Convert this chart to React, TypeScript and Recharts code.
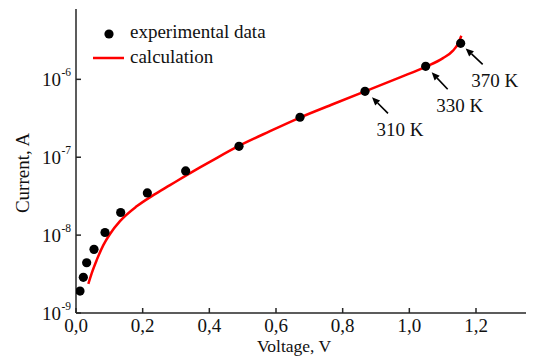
import React from "react";
import {
  ComposedChart,
  Scatter,
  Line,
  XAxis,
  YAxis,
  ReferenceLine,
  Legend,
} from "recharts";

// experimental points (voltage, V / current, A)
const expVoltage = [0.012, 0.022, 0.032, 0.054, 0.087, 0.134, 0.214, 0.329, 0.489, 0.672, 0.867, 1.049, 1.154];
const expCurrent = [1.91e-9, 2.87e-9, 4.42e-9, 6.56e-9, 1.08e-8, 1.95e-8, 3.48e-8, 6.67e-8, 1.38e-7, 3.26e-7, 7.02e-7, 1.47e-6, 2.9e-6];

// calculated curve
const calcVoltage = [
  0.037, 0.047, 0.062, 0.082, 0.102, 0.132, 0.182, 0.232, 0.282, 0.332, 0.372, 0.407, 0.487,
  0.582, 0.672, 0.772, 0.867, 0.972, 1.049, 1.101, 1.131, 1.146, 1.156,
];
const calcCurrent = [
  2.36e-9, 3.23e-9, 4.77e-9, 7.44e-9, 1.035e-8, 1.51e-8, 2.34e-8, 3.26e-8, 4.38e-8, 5.88e-8, 7.4e-8, 8.99e-8, 1.387e-7,
  2.16e-7, 3.23e-7, 4.82e-7, 7.02e-7, 1.06e-6, 1.45e-6, 1.87e-6, 2.34e-6, 2.85e-6, 3.63e-6,
];

// temperature annotations: arrow tail -> head
const arrowLabels = ["310 K", "330 K", "370 K"];
const arrowTailV = [0.936, 1.115, 1.22];
const arrowTailI = [3.66e-7, 7.45e-7, 1.56e-6];
const arrowHeadV = [0.888, 1.067, 1.169];
const arrowHeadI = [5.88e-7, 1.23e-6, 2.49e-6];

const xTicks = [0, 0.2, 0.4, 0.6, 0.8, 1.0, 1.2];
const yTicks = [1e-9, 1e-8, 1e-7, 1e-6];
const xDomain: [number, number] = [0, 1.35];
const yDomain: [number, number] = [1e-9, 8e-6];

const expData = expVoltage.map((v, i) => ({ v, i: expCurrent[i] }));
const calcData = calcVoltage.map((v, i) => ({ v, i: calcCurrent[i] }));

const INK = "#111";
const FRAME = "#262626";
const FONT = '"Liberation Serif", "DejaVu Serif", serif';

const XTick = ({ x, y, payload }: any) => (
  <g>
    <line x1={x} y1={y} x2={x} y2={y - 5} stroke={FRAME} strokeWidth={1.5} />
    <text x={x} y={y + 19} textAnchor="middle" fontSize={19} fill={INK} fontFamily={FONT}>
      {payload.value.toFixed(1).replace(".", ",")}
    </text>
  </g>
);

const YTick = ({ x, y, payload }: any) => {
  const exp = Math.round(Math.log10(payload.value));
  return (
    <g>
      <line x1={x} y1={y} x2={x + 5} y2={y} stroke={FRAME} strokeWidth={1.5} />
      <text x={x - 15} y={y + 7} textAnchor="end" fontSize={19} fill={INK} fontFamily={FONT}>
        10
      </text>
      <text x={x - 14.5} y={y - 3} textAnchor="start" fontSize={11.5} fill={INK} fontFamily={FONT}>
        {"-" + Math.abs(exp)}
      </text>
    </g>
  );
};

const RightTick = ({ x, y }: any) => (
  <line x1={x} y1={y} x2={x - 5} y2={y} stroke={FRAME} strokeWidth={1.5} />
);

const arrowShape = (label: string) => (p: any) => {
  const { x1, y1, x2, y2 } = p;
  const dx = x2 - x1;
  const dy = y2 - y1;
  const len = Math.sqrt(dx * dx + dy * dy) || 1;
  const ux = dx / len;
  const uy = dy / len;
  const bx = x2 - ux * 8;
  const by = y2 - uy * 8;
  const pts = `${x2},${y2} ${bx - uy * 3.5},${by + ux * 3.5} ${bx + uy * 3.5},${by - ux * 3.5}`;
  return (
    <g>
      <line x1={x1} y1={y1} x2={bx} y2={by} stroke="#000" strokeWidth={1.6} />
      <polygon points={pts} fill="#000" />
      <text x={x1 + 12} y={y1 + 23} textAnchor="middle" fontSize={19} fill={INK} fontFamily={FONT}>
        {label}
      </text>
    </g>
  );
};

const LegendBox = () => (
  <svg width={300} height={70} style={{ display: "block" }}>
    <circle cx={109} cy={34} r={4.6} fill="#000" />
    <text x={130} y={38} fontSize={19} fill={INK} fontFamily={FONT}>
      experimental data
    </text>
    <line x1={93} y1={58} x2={124} y2={58} stroke="#ff0000" strokeWidth={2.5} />
    <text x={130} y={63} fontSize={19} fill={INK} fontFamily={FONT}>
      calculation
    </text>
  </svg>
);

export default function App() {
  return (
    <div style={{ position: "absolute", left: 0, top: 0, background: "#fff", fontFamily: FONT }}>
      <ComposedChart width={536} height={359} margin={{ top: 9, right: 10, left: 0, bottom: 0 }}>
        <XAxis
          dataKey="v"
          type="number"
          domain={xDomain}
          ticks={xTicks}
          allowDataOverflow
          height={46}
          tickSize={0}
          tickMargin={0}
          tickLine={false}
          axisLine={{ stroke: FRAME, strokeWidth: 1.5 }}
          tick={<XTick />}
          label={() => (
            <text x={294} y={352} textAnchor="middle" fontSize={17.5} fill={INK} fontFamily={FONT}>
              Voltage, V
            </text>
          )}
        />
        <XAxis
          xAxisId="top"
          orientation="top"
          type="number"
          domain={xDomain}
          allowDataOverflow
          height={0}
          tick={false}
          tickLine={false}
          axisLine={{ stroke: FRAME, strokeWidth: 1.5 }}
        />
        <YAxis
          dataKey="i"
          type="number"
          scale="log"
          domain={yDomain}
          ticks={yTicks}
          allowDataOverflow
          width={76}
          tickSize={0}
          tickMargin={0}
          tickLine={false}
          axisLine={{ stroke: FRAME, strokeWidth: 1.5 }}
          tick={<YTick />}
          label={() => (
            <text transform="translate(29,173) rotate(-90)" textAnchor="middle" fontSize={19} fill={INK} fontFamily={FONT}>
              Current, A
            </text>
          )}
        />
        <YAxis
          yAxisId="right"
          orientation="right"
          type="number"
          scale="log"
          domain={yDomain}
          ticks={yTicks}
          allowDataOverflow
          width={0}
          tickSize={0}
          tickMargin={0}
          tickLine={false}
          axisLine={{ stroke: FRAME, strokeWidth: 1.5 }}
          tick={<RightTick />}
        />
        <Legend
          layout="vertical"
          align="center"
          verticalAlign="middle"
          wrapperStyle={{ top: 0, left: 0, width: 300 }}
          content={() => <LegendBox />}
        />
        <Scatter
          data={expData}
          dataKey="i"
          fill="#000"
          isAnimationActive={false}
          shape={(p: any) => <circle cx={p.cx} cy={p.cy} r={4.6} fill="#000" />}
        />
        <Line
          data={calcData}
          dataKey="i"
          type="monotone"
          stroke="#ff0000"
          strokeWidth={2.5}
          dot={false}
          activeDot={false}
          isAnimationActive={false}
        />
        {arrowLabels.map((label, k) => (
          <ReferenceLine
            key={label}
            segment={[
              { x: arrowTailV[k], y: arrowTailI[k] },
              { x: arrowHeadV[k], y: arrowHeadI[k] },
            ]}
            shape={arrowShape(label)}
          />
        ))}
      </ComposedChart>
    </div>
  );
}
